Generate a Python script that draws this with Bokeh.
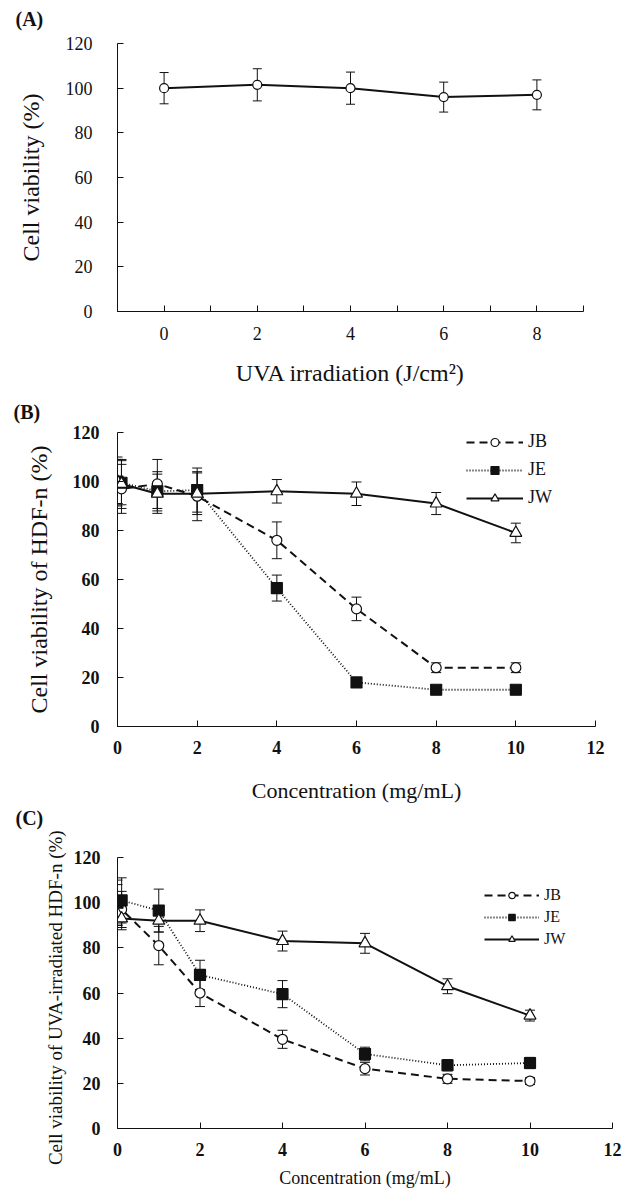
from bokeh.plotting import figure
from bokeh.layouts import column
from bokeh.models import (ColumnDataSource, Whisker, TeeHead, Range1d, FixedTicker,
                          Legend, LegendItem, Title)
from bokeh.embed import file_html
from bokeh.resources import INLINE

SERIF = "Liberation Serif"

# ---------------- data ----------------
# Panel A
a_dose = [0, 2, 4, 6, 8]
a_viab = [100, 101.5, 100, 96, 97]
a_err = [7, 7.2, 7.2, 6.7, 6.7]
a_xticks = [0, 2, 4, 6, 8]
a_xminor = [-1, 1, 3, 5, 7, 9]

y_ticks = [0, 20, 40, 60, 80, 100, 120]
conc_ticks = [0, 2, 4, 6, 8, 10, 12]

# Panel B (HDF-n)
conc = [0, 0.1, 1, 2, 4, 6, 8, 10]
b_jb = [100, 97, 99, 94, 76, 48, 24, 24]
b_jb_err = [10, 10, 10, 10, 7.5, 4.8, 2, 2]
b_je = [100, 99.5, 96, 96.5, 56.5, 18, 15, 15]
b_je_err = [9, 9, 8, 9, 5.3, 1.5, 1, 1]
b_jw = [100, 99, 95, 95, 96, 95, 91, 79]
b_jw_err = [9, 10, 8, 8.5, 4.8, 4.8, 4.5, 4]

# Panel C (UVA-irradiated HDF-n)
c_jb = [100, 97, 81, 60, 39.5, 26.5, 22, 21]
c_jb_err = [8, 8, 8.5, 6, 4, 2.8, 2, 1.5]
c_je = [100, 101, 96.5, 68, 59.5, 33, 28, 29]
c_je_err = [10, 10, 9.5, 6.5, 6, 3, 2.5, 2.5]
c_jw = [95, 93, 92, 92, 83, 82, 63, 50]
c_jw_err = [5, 5, 5, 4.8, 4.4, 4.4, 3.3, 2.4]

series_names = ["JB", "JE", "JW"]

INK = "#111111"


def base_fig(fw, fh, left, right, top, bottom, xr):
    p = figure(frame_width=fw, frame_height=fh, min_border_left=left, min_border_right=right,
               min_border_top=top, min_border_bottom=bottom, x_range=xr, y_range=Range1d(0, 120),
               output_backend="svg", toolbar_location=None, tools="", title=None)
    p.outline_line_color = None
    p.xgrid.grid_line_color = None
    p.ygrid.grid_line_color = None
    p.background_fill_color = "white"
    p.border_fill_color = "white"
    for ax in (p.xaxis[0], p.yaxis[0]):
        ax.axis_line_color = INK
        ax.axis_line_width = 1
        ax.major_tick_line_color = INK
        ax.minor_tick_line_color = INK
        ax.major_tick_in = 6
        ax.major_tick_out = 0
        ax.minor_tick_in = 6
        ax.minor_tick_out = 0
        ax.major_label_text_font = SERIF
        ax.major_label_text_color = INK
        ax.axis_label_text_font = SERIF
        ax.axis_label_text_font_style = "normal"
        ax.axis_label_text_color = INK
    p.yaxis[0].ticker = FixedTicker(ticks=y_ticks)
    return p


def add_err(p, x, y, err, size=9):
    src = ColumnDataSource(dict(x=x, up=[v + e for v, e in zip(y, err)],
                                lo=[v - e for v, e in zip(y, err)]))
    w = Whisker(source=src, base="x", upper="up", lower="lo", dimension="height",
                line_color=INK, line_width=1,
                upper_head=TeeHead(size=size, line_color=INK, line_width=1),
                lower_head=TeeHead(size=size, line_color=INK, line_width=1))
    p.add_layout(w)


def panel_label(p, text, offset, gap):
    spacer = Title(text=" ", standoff=gap, text_font_size="1px", text_color="white")
    lab = Title(text=text, align="left", offset=offset, standoff=0, vertical_align="top",
                text_font=SERIF, text_font_style="bold", text_font_size="20px",
                text_color=INK)
    p.add_layout(spacer, "above")
    p.add_layout(lab, "above")


# ---------------- Panel A ----------------
pa = base_fig(466, 268, 117, 47, 43, 84, Range1d(-1, 9))
pa.xaxis[0].ticker = FixedTicker(ticks=a_xticks, minor_ticks=a_xminor)
pa.xaxis[0].axis_label = "UVA irradiation (J/cm²)"
pa.yaxis[0].axis_label = "Cell viability (%)"
for ax in (pa.xaxis[0], pa.yaxis[0]):
    ax.major_label_text_font_size = "18px"
    ax.axis_label_text_font_size = "24px"
pa.xaxis[0].major_label_standoff = 15
pa.xaxis[0].axis_label_standoff = 17
pa.yaxis[0].major_label_standoff = 25
pa.yaxis[0].axis_label_standoff = 19
add_err(pa, a_dose, a_viab, a_err, size=9)
pa.line(a_dose, a_viab, line_color=INK, line_width=2)
pa.scatter(a_dose, a_viab, marker="circle", size=9, fill_color="white", line_color=INK, line_width=1.2)
panel_label(pa, "(A)", -102, 9)


# ---------------- Panels B, C ----------------
def conc_panel(fw, fh, left, right, top, bottom, ylabel, xlabel, data, tick_fs, ylab_fs, xlab_fs,
               leg_fs, leg_row_h, leg_spacing, leg_glyph_w, leg_loc):
    p = base_fig(fw, fh, left, right, top, bottom, Range1d(0, 12))
    p.xaxis[0].ticker = FixedTicker(ticks=conc_ticks)
    p.xaxis[0].axis_label = xlabel
    p.yaxis[0].axis_label = ylabel
    for ax in (p.xaxis[0], p.yaxis[0]):
        ax.major_label_text_font_size = tick_fs
        ax.major_label_text_font_style = "bold"
    p.xaxis[0].axis_label_text_font_size = xlab_fs
    p.yaxis[0].axis_label_text_font_size = ylab_fs
    styles = [
        dict(dash="8 5", width=2, marker="circle", size=10, fill="white"),
        dict(dash="1 2", width=1.8, marker="square", size=11, fill=INK),
        dict(dash="solid", width=2, marker="triangle", size=12, fill="white"),
    ]
    for (vals, errs), st in zip(data, styles):
        add_err(p, conc, vals, errs, size=10)
    items = []
    for name, (vals, errs), st in zip(series_names, data, styles):
        lr = p.line(conc, vals, line_color=INK, line_width=st["width"], line_dash=st["dash"])
        sr = p.scatter(conc, vals, marker=st["marker"], size=st["size"], fill_color=st["fill"],
                       line_color=INK, line_width=1.2)
        items.append(LegendItem(label=name, renderers=[lr, sr]))
    leg = Legend(items=items, location=leg_loc, label_text_font=SERIF, label_text_font_size=leg_fs,
                 label_text_color=INK, border_line_color=None, background_fill_alpha=0,
                 padding=0, margin=0, spacing=leg_spacing, glyph_height=leg_row_h,
                 label_height=leg_row_h, glyph_width=leg_glyph_w, label_standoff=5,
                 label_width=34)
    p.add_layout(leg, "center")
    return p


pb = conc_panel(478, 294, 116, 36, 37, 79, "Cell viability of HDF-n (%)", "Concentration (mg/mL)",
                [(b_jb, b_jb_err), (b_je, b_je_err), (b_jw, b_jw_err)],
                "18px", "24px", "22px", "18px", 20, 7, 57, (349, 218))
pb.xaxis[0].major_label_standoff = 14
pb.xaxis[0].axis_label_standoff = 21
pb.yaxis[0].major_label_standoff = 18
pb.yaxis[0].axis_label_standoff = 18
panel_label(pb, "(B)", -104, 5)

pc = conc_panel(495, 271, 115, 20, 52, 61, "Cell viability  of UVA-irradiated  HDF-n (%)",
                "Concentration (mg/mL)",
                [(c_jb, c_jb_err), (c_je, c_je_err), (c_jw, c_jw_err)],
                "18px", "19px", "18px", "16px", 16, 4, 55, (367, 180))
pc.xaxis[0].major_label_standoff = 14
pc.xaxis[0].axis_label_standoff = 9
pc.yaxis[0].major_label_standoff = 17
pc.yaxis[0].axis_label_standoff = 5
panel_label(pc, "(C)", -102, 24)

layout = column(pa, pb, pc, spacing=0)
open("out.html", "w").write(file_html(layout, INLINE))
